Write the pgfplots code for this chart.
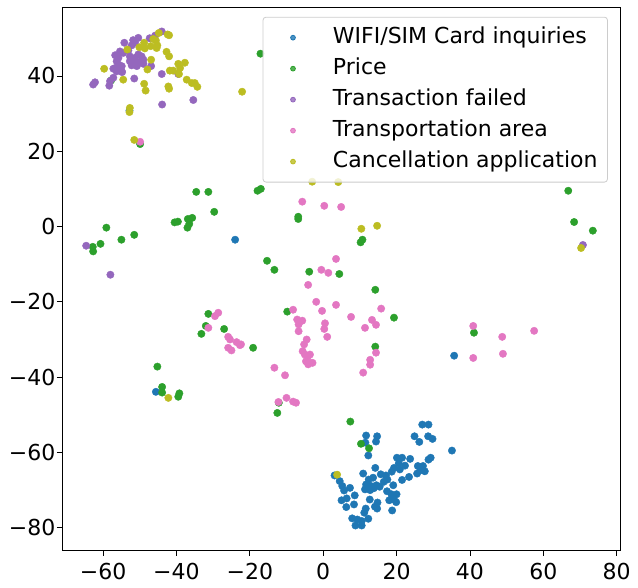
\documentclass[border=0pt]{standalone}
\usepackage{fontspec}
\setmainfont{DejaVu Sans}
\usepackage{pgfplots}
\pgfplotsset{compat=1.18}
\definecolor{tabblue}{HTML}{1F77B4}
\definecolor{tabgreen}{HTML}{2CA02C}
\definecolor{tabpurple}{HTML}{9467BD}
\definecolor{tabpink}{HTML}{E377C2}
\definecolor{tabolive}{HTML}{BCBD22}
\begin{document}
\fontsize{22}{26}\selectfont
\begin{tikzpicture}
\begin{axis}[name=ax, scale only axis, width=559pt, height=544pt,
  xmin=-71.2, xmax=81.1, ymin=-86.1, ymax=58.3,
  xtick={-60,-40,-20,0,20,40,60,80},
  xticklabels={−60,−40,−20,0,20,40,60,80},
  ytick={-80,-60,-40,-20,0,20,40},
  yticklabels={−80,−60,−40,−20,0,20,40},
  tick label style={font=\fontsize{22}{26}\selectfont},
  yticklabel style={inner xsep=1.5pt},
  tick align=outside, xtick pos=left, ytick pos=left,
  major tick length=5pt,
  tick style={black, line width=0.8pt},
  axis line style={black, line width=0.8pt},
  every axis plot/.append style={only marks, mark=*, mark size=3.7pt},
  legend cell align=left,
  legend image code/.code={\path[draw=none,fill=none] (0pt,-1pt) rectangle (60pt,1pt); \fill (22pt,0pt) circle (2.4pt);},
  legend style={at={(0.977,0.982)}, anchor=north east, draw=black!20, line width=0.8pt,
    rounded corners=3pt, fill=white, fill opacity=0.8, text opacity=1,
    inner xsep=8pt, inner ysep=8pt, row sep=6pt,
    nodes={inner sep=2pt, text height=16pt, text depth=5pt},
    font=\fontsize{22}{26}\selectfont},
]
\addplot[color=tabblue] coordinates {
(27.0,-52.6) (28.7,-52.6) (11.7,-55.5) (14.7,-55.7) (14.4,-57.1) (11.5,-57.4) (24.9,-55.7) (26.2,-57.2) (28.6,-55.7) (29.8,-56.4)
(35.1,-59.5) (12.3,-60.8) (14.2,-64.1) (20.1,-61.4) (21.5,-61.4) (20.6,-62.9) (19.3,-64.1) (18.7,-65.1) (10.9,-65.6) (3.1,-66.1)
(15.7,-65.8) (17.1,-66.1) (17.5,-67.2) (20.9,-64.5) (25.8,-63.6) (27.2,-63.6) (26.6,-64.7) (27.7,-65.0) (25.6,-65.6) (28.7,-61.9)
(29.3,-61.4) (23.4,-66.5) (21.5,-67.3) (19.1,-68.7) (4.5,-67.6) (5.2,-68.9) (5.7,-70.1) (7.3,-69.4) (12.4,-67.2) (13.6,-66.7)
(11.7,-68.5) (13.0,-68.9) (14.5,-68.7) (15.4,-69.1) (11.4,-69.8) (12.8,-70.0) (13.8,-69.5) (17.4,-70.3) (18.6,-71.1) (20.0,-71.1)
(18.0,-72.7) (19.3,-72.5) (19.9,-73.2) (8.6,-71.4) (12.7,-72.5) (5.0,-72.7) (6.4,-72.2) (8.4,-73.8) (6.3,-74.5) (14.8,-73.3)
(14.1,-74.4) (14.7,-74.9) (11.6,-74.9) (11.2,-76.0) (18.8,-75.4) (12.3,-77.6) (7.9,-77.5) (9.3,-77.8) (10.5,-78.2) (8.8,-79.4)
(10.5,-79.4) (22.3,-63.5) (23.7,-61.7) (16.5,-67.8) (35.7,-34.3) (-24.0,-3.5) (-45.6,-43.9) (-52.8,30.8)
};
\addlegendentry{WIFI/SIM Card inquiries}
\addplot[color=tabgreen] coordinates {
(-17.1,45.9) (-57.8,38.8) (-49.9,21.9) (-34.6,9.2) (-31.3,9.2) (-17.9,9.5) (-17.0,10.0) (-29.7,3.9) (-40.5,1.1) (-39.6,1.3)
(-36.9,2.0) (-35.7,2.3) (-36.5,0.7) (-37.0,-0.3) (-59.1,-0.3) (-55.0,-3.5) (-51.5,-2.2) (-60.7,-4.6) (-62.8,-5.4) (-62.7,-6.6)
(-15.3,-9.1) (-13.3,-11.5) (-31.3,-23.2) (-32.0,-26.4) (-33.2,-28.5) (-27.0,-27.2) (-19.1,-32.2) (-45.2,-37.2) (-43.9,-42.6) (-43.9,-44.1)
(-39.5,-45.2) (-39.2,-44.3) (-12.5,-49.5) (-12.1,-46.8) (-6.8,2.6) (-6.8,2.0) (10.2,-4.2) (10.7,-3.5) (-3.8,-12.0) (4.4,-12.6)
(14.2,-16.8) (19.3,-24.2) (-9.8,-22.6) (14.2,-31.9) (66.8,9.5) (68.4,1.2) (73.5,-1.1) (41.1,-28.2) (7.4,-51.8) (10.3,-57.7)
(12.5,-58.9)
};
\addlegendentry{Price}
\addplot[color=tabpurple] coordinates {
(-54.2,48.8) (-51.8,49.5) (-50.4,50.1) (-51.3,48.8) (-52.2,48.1) (-45.8,50.7) (-44.0,51.8) (-55.4,46.5) (-54.5,46.1) (-53.1,46.7)
(-56.7,45.5) (-55.8,44.8) (-52.7,45.2) (-51.3,44.8) (-50.4,45.7) (-49.5,45.2) (-49.0,44.3) (-52.7,43.9) (-51.3,43.4) (-49.9,43.7)
(-52.2,42.8) (-50.8,42.6) (-49.0,43.2) (-56.3,43.9) (-55.8,43.0) (-56.7,42.1) (-55.4,42.1) (-54.9,41.2) (-56.3,41.2) (-54.9,42.6)
(-57.2,41.9) (-46.9,42.6) (-44.0,40.5) (-51.5,39.3) (-57.2,39.5) (-58.1,38.6) (-58.3,37.4) (-62.2,38.3) (-62.7,37.7) (-39.5,40.5)
(-43.9,32.4) (-35.4,33.6) (-54.8,41.0) (-47.3,50.0) (-64.6,-5.1) (-58.0,-12.8) (70.8,-4.9)
};
\addlegendentry{Transaction failed}
\addplot[color=tabpink] coordinates {
(-49.9,22.5) (-5.7,6.6) (0.3,5.5) (4.9,5.2) (3.5,-8.6) (-0.5,-11.5) (1.4,-12.3) (-4.1,-15.5) (-1.9,-20.0) (-0.3,-22.4)
(3.5,-20.8) (-8.2,-22.1) (-7.1,-24.7) (-5.7,-25.0) (-6.7,-26.0) (-6.7,-27.8) (0.5,-25.7) (0.3,-27.2) (1.1,-29.3) (7.6,-24.0)
(15.8,-21.8) (13.3,-24.8) (14.4,-26.1) (11.4,-26.9) (14.4,-33.5) (12.8,-35.4) (12.8,-36.7) (10.9,-38.8) (-4.5,-30.0) (-5.2,-31.3)
(-5.6,-33.1) (-5.0,-34.0) (-4.1,-34.4) (-3.6,-34.0) (-4.7,-35.8) (-3.6,-36.2) (-2.9,-36.2) (-4.1,-36.6) (-22.4,-31.3) (-13.3,-37.5)
(-28.6,-22.9) (-29.5,-23.8) (-31.3,-26.9) (-25.9,-29.3) (-25.4,-30.0) (-25.9,-32.2) (-25.0,-32.9) (-23.6,-30.7) (-22.7,-31.5) (-10.4,-39.5)
(-10.0,-45.5) (-12.2,-46.6) (-8.2,-46.5) (-7.4,-46.8) (40.9,-26.4) (48.8,-29.3) (57.5,-27.7) (40.9,-34.9) (49.0,-33.8)
};
\addlegendentry{Transportation area}
\addplot[color=tabolive] coordinates {
(-44.8,51.4) (-42.4,51.0) (-42.0,50.8) (-48.8,48.8) (-46.3,49.8) (-45.6,49.4) (-53.4,47.0) (-50.1,47.6) (-48.6,47.3) (-47.0,47.9)
(-45.4,47.4) (-45.2,48.1) (-42.7,46.4) (-42.0,45.2) (-46.9,44.3) (-47.9,41.7) (-59.7,41.9) (-54.5,39.0) (-41.8,41.4) (-40.9,41.4)
(-39.5,43.2) (-37.7,43.5) (-39.0,42.1) (-39.3,40.5) (-37.2,39.0) (-35.8,38.1) (-35.0,38.1) (-34.3,37.1) (-48.8,37.9) (-48.4,36.1)
(-42.2,37.2) (-42.0,36.6) (-52.7,31.5) (-52.8,30.4) (-51.5,23.0) (-22.1,35.8) (-42.2,-45.5) (3.8,-65.9) (70.3,-5.7) (10.4,-0.6)
(14.7,0.2) (-3.0,11.9) (4.1,11.8)
};
\addlegendentry{Cancellation application}
\end{axis}
\path (ax.south west) ++(-62pt,-34pt);
\path (ax.north east) ++(17pt,7pt);
\end{tikzpicture}
\end{document}
